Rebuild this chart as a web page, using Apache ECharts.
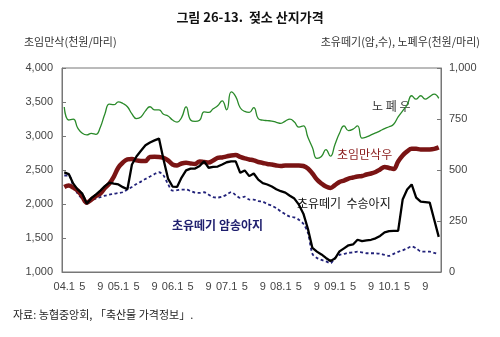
<!DOCTYPE html>
<html><head><meta charset="utf-8">
<script src="https://cdn.jsdelivr.net/npm/echarts@6/dist/echarts.min.js"></script>
<style>html,body{margin:0;padding:0;background:#fff}#c{width:500px;height:337px}</style>
</head><body><div id="c"></div>
<script>
// Months 2004.1 – 2010.12
var years = ['04','05','06','07','08','09','10'];
var categories = [];
years.forEach(function(y){ for (var m = 1; m <= 12; m++) categories.push(y + '.' + m); });

// 초임만삭우 (천원/마리) – left axis
var heifer = [2249,2271,2241,2197,2108,2020,2064,2116,2153,2234,2301,2404,
  2537,2611,2655,2663,2641,2633,2633,2692,2695,2692,2677,2641,
  2581,2567,2596,2607,2596,2589,2626,2618,2611,2641,2677,2685,
  2700,2714,2719,2692,2670,2655,2641,2618,2604,2589,2581,2567,
  2559,2567,2567,2567,2567,2559,2522,2448,2360,2301,2256,2237,
  2278,2323,2345,2374,2389,2404,2411,2434,2448,2471,2508,2545,
  2530,2515,2626,2714,2774,2811,2811,2803,2803,2803,2811,2833];
// 초유떼기 수송아지 – right axis
var bullCalf = [488,480,433,404,384,335,362,379,399,421,438,433,
  429,416,406,527,566,594,621,635,645,654,552,458,
  419,417,463,498,507,507,520,542,511,515,517,527,
  538,542,542,486,498,470,483,453,436,429,419,406,
  396,389,374,360,330,286,212,118,100,86,69,54,
  66,101,116,131,135,158,151,155,158,165,177,194,
  200,202,202,355,404,429,365,345,343,340,256,172];
// 초유떼기 암송아지 – right axis
var heiferCalf = [473,473,424,384,360,345,352,360,367,374,379,384,
  387,391,404,417,431,443,456,468,480,489,473,431,
  399,401,404,404,397,389,388,391,379,367,365,369,
  379,392,377,363,369,355,355,347,345,333,325,313,
  297,283,271,268,256,236,192,89,69,59,52,43,
  69,84,89,94,96,100,96,92,92,92,89,84,
  79,89,99,106,116,125,116,101,100,100,94,89];
// 노폐우 – right axis
var cullCow = [809,745,749,705,680,672,680,675,710,775,823,820,
  834,826,810,775,752,760,790,810,795,795,773,765,
  745,735,757,809,745,738,744,785,782,800,815,839,
  795,883,860,805,787,782,806,752,744,742,740,734,
  729,740,749,735,710,716,660,610,557,566,600,568,
  625,680,716,693,700,716,656,662,672,682,692,703,
  712,724,760,790,820,864,847,864,847,860,872,851];

var leftTicks = [1000,1500,2000,2500,3000,3500,4000];
var rightTicks = [0,250,500,750,1000];
var labelMonths = [1,5,9];

function fmt(v){ return String(v).replace(/\B(?=(\d{3})+(?!\d))/g, ','); }

var chart = echarts.init(document.getElementById('c'), null, {renderer:'canvas'});
var font = 'Liberation Sans, Arial, sans-serif';
var kfont = '"Noto Sans CJK KR", sans-serif';
chart.setOption({
  animation:false,
  title:{text:'그림 26-13.  젖소 산지가격', left:'center', top:6,
    textStyle:{fontFamily:kfont, fontSize:13, fontWeight:'bold', color:'#111'}},
  grid:{left:62, right:59, top:68, bottom:65, show:true, borderColor:'#777', borderWidth:1},
  xAxis:{type:'category', data:categories, boundaryGap:true,
    axisLine:{lineStyle:{color:'#777'}},
    axisTick:{inside:true, length:3, interval:0, lineStyle:{color:'#777'}},
    axisLabel:{interval:function(i){ var m = +categories[i].split('.')[1]; return labelMonths.indexOf(m) >= 0; },
      formatter:function(v){ var p = v.split('.'); return p[1] === '1' ? v : p[1]; },
      fontFamily:font, fontSize:11, color:'#444', margin:9}},
  yAxis:[
    {type:'value', min:leftTicks[0], max:leftTicks[leftTicks.length-1], interval:500,
      splitLine:{show:false},
      axisLine:{show:true, lineStyle:{color:'#777'}},
      axisTick:{show:true, inside:true, length:4, lineStyle:{color:'#777'}},
      axisLabel:{formatter:fmt, fontFamily:font, fontSize:11, color:'#444', margin:9}},
    {type:'value', min:rightTicks[0], max:rightTicks[rightTicks.length-1], interval:250,
      splitLine:{show:false},
      axisLine:{show:true, lineStyle:{color:'#777'}},
      axisTick:{show:true, inside:true, length:4, lineStyle:{color:'#777'}},
      axisLabel:{formatter:fmt, fontFamily:font, fontSize:11, color:'#444', margin:8}}
  ],
  series:[
    {name:'노폐우', type:'line', yAxisIndex:1, data:cullCow, symbol:'none', smooth:0.5,
      lineStyle:{color:'#2a8a2a', width:1.3}, z:2},
    {name:'초유떼기 암송아지', type:'line', yAxisIndex:1, data:heiferCalf, symbol:'none', smooth:0.3,
      lineStyle:{color:'#22227a', width:1.8, type:[3,2.5]}, z:3},
    {name:'초임만삭우', type:'line', yAxisIndex:0, data:heifer, symbol:'none', smooth:0.4,
      lineStyle:{color:'#7a1414', width:4.5}, z:4},
    {name:'초유떼기 수송아지', type:'line', yAxisIndex:1, data:bullCalf, symbol:'none',
      lineStyle:{color:'#000', width:2.3}, z:5}
  ],
  graphic:[
    {type:'text', left:24, top:36, style:{text:'초임만삭(천원/마리)', font:'11px '+kfont, fill:'#333'}},
    {type:'text', right:20, top:36, style:{text:'초유떼기(암,수), 노폐우(천원/마리)', font:'11px '+kfont, fill:'#333'}},
    {type:'text', left:372, top:100, style:{text:'노 폐 우', font:'12px '+kfont, fill:'#333'}},
    {type:'text', left:337, top:148, style:{text:'초임만삭우', font:'12px '+kfont, fill:'#8a1c1c'}},
    {type:'text', left:297, top:197, style:{text:'초유떼기  수송아지', font:'12px '+kfont, fill:'#111'}},
    {type:'text', left:172, top:219, style:{text:'초유떼기 암송아지', font:'bold 12px '+kfont, fill:'#1f1f6e'}},
    {type:'text', left:13, top:309, style:{text:'자료: 농협중앙회, 「축산물 가격정보」.', font:'11px '+kfont, fill:'#222'}}
  ]
});
</script></body></html>
